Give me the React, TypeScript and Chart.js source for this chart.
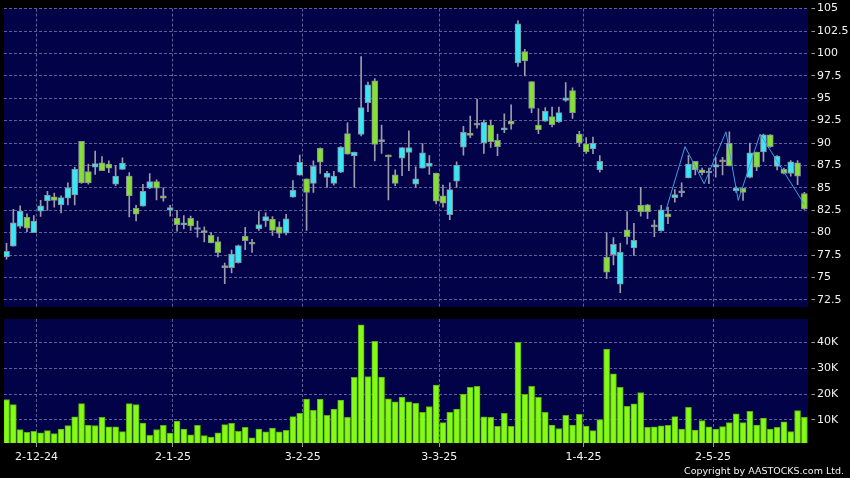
import React, { useEffect, useRef } from 'react';
import { Chart, registerables } from 'chart.js';

Chart.register(...registerables);

const openPrice = [
  77.3, 78.5, 80.7, 81.7, 80.0, 82.4, 83.55, 84.0, 83.1, 83.85,
  84.2, 90.2, 86.8, 87.3, 87.8, 87.65, 85.4, 87.05, 86.3, 82.7,
  82.95, 84.95, 85.7, 84.1, 82.5, 81.6, 80.85, 81.6, 80.35, 80.0,
  79.7, 79.0, 76.1, 76.1, 76.65, 79.6, 78.9, 80.4, 81.3, 81.5,
  80.65, 79.95, 83.95, 86.4, 86.0, 85.5, 89.4, 86.15, 85.5, 86.75,
  91.05, 88.55, 90.95, 94.5, 96.95, 90.15, 88.65, 86.45, 88.3, 88.95,
  85.4, 87.2, 87.4, 86.65, 84.1, 82.0, 85.75, 89.55, 91.1, 92.0,
  90.0, 92.0, 90.3, 91.45, 92.45, 98.95, 100.2, 96.85, 92.0, 92.45,
  92.95, 92.35, 94.75, 95.85, 91.0, 89.9, 89.35, 87.0, 77.25, 77.55,
  74.25, 80.3, 78.3, 83.05, 83.1, 80.65, 80.2, 82.1, 83.9, 84.45,
  86.1, 87.95, 87.0, 86.65, 87.3, 87.9, 90.0, 84.65, 84.95, 86.15,
  89.0, 89.0, 90.9, 87.4, 87.05, 86.6, 87.8, 84.35,
];
const highPrice = [
  78.8, 82.6, 83.0, 82.1, 81.9, 83.6, 84.6, 84.4, 84.1, 85.55,
  87.3, 90.2, 87.65, 89.1, 88.5, 88.0, 87.5, 88.35, 86.7, 83.05,
  85.4, 86.6, 85.9, 85.0, 83.05, 82.5, 81.9, 81.85, 81.3, 80.65,
  80.0, 79.5, 76.6, 78.05, 78.6, 80.6, 79.25, 82.35, 82.2, 81.8,
  81.2, 82.05, 85.8, 88.65, 86.0, 88.0, 89.45, 86.85, 86.85, 89.6,
  92.25, 89.0, 99.65, 96.8, 97.2, 92.0, 88.65, 87.0, 89.5, 91.35,
  87.35, 89.95, 88.6, 86.65, 85.3, 85.55, 87.9, 91.85, 93.0, 94.9,
  92.55, 92.55, 91.0, 93.25, 94.25, 103.65, 100.45, 96.85, 93.85, 93.95,
  94.0, 94.0, 96.75, 96.15, 91.3, 90.6, 90.65, 88.6, 80.0, 79.45,
  78.8, 82.35, 81.05, 85.05, 83.15, 81.4, 83.05, 82.85, 84.8, 85.55,
  88.6, 87.95, 87.2, 87.2, 88.4, 88.4, 91.25, 85.15, 84.95, 90.0,
  89.0, 91.0, 90.95, 88.6, 87.2, 88.05, 88.05, 84.5,
];
const lowPrice = [
  77.05, 78.5, 80.5, 80.1, 80.0, 81.8, 82.5, 82.85, 82.2, 83.1,
  83.1, 85.5, 85.4, 86.5, 86.9, 86.7, 85.25, 87.05, 81.75, 81.3,
  82.95, 84.9, 83.65, 83.5, 81.85, 80.15, 80.4, 80.25, 79.5, 78.95,
  78.85, 77.3, 74.3, 75.5, 76.6, 78.1, 77.8, 80.25, 80.7, 79.7,
  79.45, 79.75, 83.95, 86.4, 80.25, 84.5, 86.6, 85.05, 85.3, 86.7,
  88.75, 85.05, 90.8, 93.5, 88.0, 88.85, 83.65, 85.25, 86.35, 86.9,
  85.05, 87.2, 86.5, 83.2, 82.85, 81.45, 85.05, 88.65, 90.6, 91.65,
  88.85, 89.5, 88.6, 91.15, 91.55, 98.55, 97.5, 93.4, 91.05, 92.4,
  91.8, 92.3, 94.65, 92.75, 89.6, 88.85, 88.8, 86.75, 74.85, 76.4,
  73.3, 78.7, 77.45, 81.85, 81.55, 79.55, 80.15, 81.0, 83.4, 84.0,
  86.1, 86.45, 86.45, 85.45, 86.2, 86.45, 87.45, 84.5, 83.6, 86.1,
  86.9, 87.95, 89.5, 87.0, 86.55, 86.3, 85.35, 82.6,
];
const closePrice = [
  77.9, 81.1, 82.4, 80.5, 81.3, 83.0, 84.2, 83.6, 83.9, 85.0,
  87.1, 85.55, 85.55, 87.7, 86.9, 87.2, 86.3, 87.75, 84.1, 82.05,
  84.6, 85.7, 84.95, 83.85, 82.8, 80.9, 81.1, 80.75, 80.55, 80.0,
  78.85, 77.75, 76.1, 77.6, 78.55, 79.1, 78.7, 80.9, 81.8, 80.25,
  79.9, 81.55, 84.75, 87.85, 84.5, 87.4, 87.85, 86.65, 86.3, 89.55,
  88.75, 89.0, 93.95, 96.5, 89.85, 90.15, 88.45, 85.5, 89.5, 89.5,
  86.0, 88.9, 87.75, 83.5, 83.3, 84.8, 87.55, 91.2, 90.85, 92.0,
  92.3, 90.15, 89.6, 91.7, 92.1, 103.3, 99.15, 93.85, 91.5, 93.55,
  92.05, 93.4, 95.05, 93.4, 90.0, 89.0, 90.0, 87.95, 75.6, 78.7,
  77.8, 79.55, 79.15, 82.35, 82.35, 80.65, 82.55, 81.75, 84.25, 84.45,
  87.65, 87.0, 86.7, 86.65, 87.6, 87.9, 87.45, 85.0, 84.5, 88.9,
  87.3, 90.9, 89.6, 88.55, 86.6, 87.9, 86.3, 82.65,
];
// volume in thousands of shares
const volumeK = [
  17.9, 15.9, 6.3, 5.2, 5.6, 5.0, 5.9, 4.7, 6.5, 7.8,
  11.2, 16.3, 7.9, 7.8, 11.0, 7.3, 7.3, 5.5, 16.3, 15.9,
  8.8, 4.1, 6.3, 7.9, 4.9, 9.6, 6.5, 4.3, 7.9, 4.0,
  3.4, 5.0, 8.2, 8.7, 5.6, 7.2, 3.1, 6.5, 5.4, 6.9,
  5.4, 6.0, 11.3, 12.6, 18.1, 13.7, 18.1, 11.8, 14.2, 17.7,
  11.0, 26.5, 46.7, 26.8, 40.4, 26.6, 18.2, 17.0, 18.8, 17.0,
  16.4, 12.9, 15.2, 23.5, 9.0, 12.9, 14.2, 20.0, 22.6, 23.0,
  11.2, 11.0, 7.5, 12.6, 7.5, 40.0, 19.9, 23.0, 18.7, 12.9,
  8.0, 6.7, 11.8, 8.0, 12.2, 7.6, 5.9, 10.1, 37.4, 27.8,
  22.6, 15.3, 16.2, 20.6, 7.2, 7.3, 7.7, 7.9, 11.3, 6.5,
  14.9, 6.1, 9.8, 7.3, 6.5, 7.4, 9.0, 12.4, 9.0, 13.3,
  8.0, 10.7, 6.5, 7.2, 9.3, 5.5, 13.6, 11.0,
];

const zigzagIndex = [96.7, 99.5, 102.3, 105.5, 107.3, 110.5, 117.0];
const zigzagPrice = [82.5, 89.6, 85.45, 91.25, 83.6, 91.0, 83.15];

const priceTicks = [72.5, 75, 77.5, 80, 82.5, 85, 87.5, 90, 92.5, 95, 97.5, 100, 102.5, 105];
const volumeTicks = [10, 20, 30, 40];
const dateLabels = ['2-12-24', '2-1-25', '3-2-25', '3-3-25', '1-4-25', '2-5-25'];
const dateTickIndex = [4.4, 24.4, 43.45, 63.46, 84.6, 103.6];

const X_MIN = -0.37;
const X_MAX = 117.53;

const NAVY = '#020249';
const GRID = '#5e5e98';
const TICK = '#9a9a9a';
const TEXT = '#f2f2f2';
const UP = '#3ae6f6';
const DOWN = '#86df34';
const FLAT = '#a8a8a8';
const BODY_BORDER = '#8a8f96';
const WICK = '#9c9ca8';
const VOL_FILL = '#84fa16';
const VOL_BORDER = '#58b00c';
const ZIGZAG = '#3d9de6';

const areaBg = {
  id: 'areaBg',
  beforeDraw(chart: any) {
    const { ctx, chartArea } = chart;
    if (!chartArea) return;
    ctx.save();
    ctx.fillStyle = NAVY;
    ctx.fillRect(chartArea.left, chartArea.top, chartArea.right - chartArea.left, chartArea.bottom - chartArea.top);
    ctx.restore();
  },
};

export default function App() {
  const priceRef = useRef<HTMLCanvasElement>(null);
  const volRef = useRef<HTMLCanvasElement>(null);

  useEffect(() => {
    Chart.defaults.font.family = "'DejaVu Sans', sans-serif";
    Chart.defaults.font.size = 11;

    const bodies = openPrice.map((o, i) => ({ x: i, y: [Math.min(o, closePrice[i]), Math.max(o, closePrice[i])] }));
    const bodyColors = openPrice.map((o, i) => (closePrice[i] > o ? UP : closePrice[i] < o ? DOWN : FLAT));
    const wicks = lowPrice.map((l, i) => ({ x: i, y: [l, highPrice[i]] }));
    const zig = zigzagIndex.map((x, i) => ({ x, y: zigzagPrice[i] }));
    const vols = volumeK.map((v, i) => ({ x: i, y: v }));

    const xTicks = (s: any) => {
      s.ticks = dateTickIndex.map((v) => ({ value: v }));
    };

    const pc = new Chart(priceRef.current as HTMLCanvasElement, {
      type: 'bar',
      data: {
        datasets: [
          {
            type: 'line',
            data: zig,
            borderColor: ZIGZAG,
            borderWidth: 1,
            pointRadius: 0,
            tension: 0,
            fill: false,
          } as any,
          {
            type: 'bar',
            data: bodies,
            backgroundColor: bodyColors,
            borderColor: BODY_BORDER,
            borderWidth: 1,
            borderSkipped: false,
            grouped: false,
            categoryPercentage: 1,
            barPercentage: 1,
            maxBarThickness: 6,
            minBarLength: 2,
          } as any,
          {
            type: 'bar',
            data: wicks,
            backgroundColor: WICK,
            borderWidth: 0,
            grouped: false,
            categoryPercentage: 1,
            barPercentage: 1,
            maxBarThickness: 1,
          } as any,
        ],
      },
      options: {
        responsive: false,
        animation: false,
        events: [],
        layout: { padding: { left: 4, top: 7, right: 0, bottom: 171 } },
        plugins: { legend: { display: false }, tooltip: { enabled: false } },
        scales: {
          x: {
            type: 'linear',
            offset: false,
            min: X_MIN,
            max: X_MAX,
            afterBuildTicks: xTicks,
            afterFit: (s: any) => {
              s.height = 0;
            },
            ticks: { display: false },
            grid: { color: GRID, drawTicks: false, lineWidth: 1, offset: false },
            border: { display: false, dash: [3, 2] },
          },
          y: {
            position: 'right',
            min: 71.7,
            max: 105,
            afterBuildTicks: (s: any) => {
              s.ticks = priceTicks.map((v) => ({ value: v }));
            },
            afterFit: (s: any) => {
              s.width = 42;
            },
            ticks: { color: TEXT, padding: 2, font: { size: 11 }, callback: (v: any) => String(v) },
            grid: { color: GRID, tickLength: 7, tickColor: TICK, tickBorderDash: [0, 3.5, 3.5, 30] },
            border: { display: false, dash: [3, 2] },
          },
        },
      } as any,
      plugins: [areaBg],
    });

    const vc = new Chart(volRef.current as HTMLCanvasElement, {
      type: 'bar',
      data: {
        datasets: [
          {
            data: vols,
            backgroundColor: VOL_FILL,
            borderColor: VOL_BORDER,
            borderWidth: 1,
            barThickness: 6,
          } as any,
        ],
      },
      options: {
        responsive: false,
        animation: false,
        events: [],
        layout: { padding: { left: 4, top: 319, right: 0, bottom: 0 } },
        plugins: { legend: { display: false }, tooltip: { enabled: false } },
        scales: {
          x: {
            type: 'linear',
            offset: false,
            min: X_MIN,
            max: X_MAX,
            afterBuildTicks: xTicks,
            afterFit: (s: any) => {
              s.height = 35;
            },
            ticks: {
              color: TEXT,
              padding: 4,
              autoSkip: false,
              maxRotation: 0,
              font: { size: 11 },
              callback: (_v: any, i: number) => dateLabels[i],
            },
            grid: { color: GRID, tickLength: 4, tickColor: TICK, offset: false },
            border: { display: false, dash: [3, 2] },
          },
          y: {
            position: 'right',
            min: 1.1,
            max: 49,
            afterBuildTicks: (s: any) => {
              s.ticks = volumeTicks.map((v) => ({ value: v }));
            },
            afterFit: (s: any) => {
              s.width = 42;
            },
            ticks: { color: TEXT, padding: 2, font: { size: 11 }, callback: (v: any) => v + 'K' },
            grid: { color: GRID, tickLength: 7, tickColor: TICK, tickBorderDash: [0, 3.5, 3.5, 30] },
            border: { display: false, dash: [3, 2] },
          },
        },
      } as any,
      plugins: [areaBg],
    });

    return () => {
      pc.destroy();
      vc.destroy();
    };
  }, []);

  return (
    <div
      style={{
        position: 'fixed',
        left: 0,
        top: 0,
        width: 850,
        height: 478,
        background: '#000',
        overflow: 'hidden',
      }}
    >
      <canvas ref={volRef} width={850} height={478} style={{ position: 'absolute', left: 0, top: 0 }} />
      <canvas ref={priceRef} width={850} height={478} style={{ position: 'absolute', left: 0, top: 0 }} />
      <div
        style={{
          position: 'absolute',
          right: 6,
          top: 465,
          fontFamily: "'DejaVu Sans', sans-serif",
          fontSize: 9.5,
          lineHeight: '12px',
          color: '#f2f2f2',
          whiteSpace: 'nowrap',
        }}
      >
        Copyright by AASTOCKS.com Ltd.
      </div>
    </div>
  );
}
